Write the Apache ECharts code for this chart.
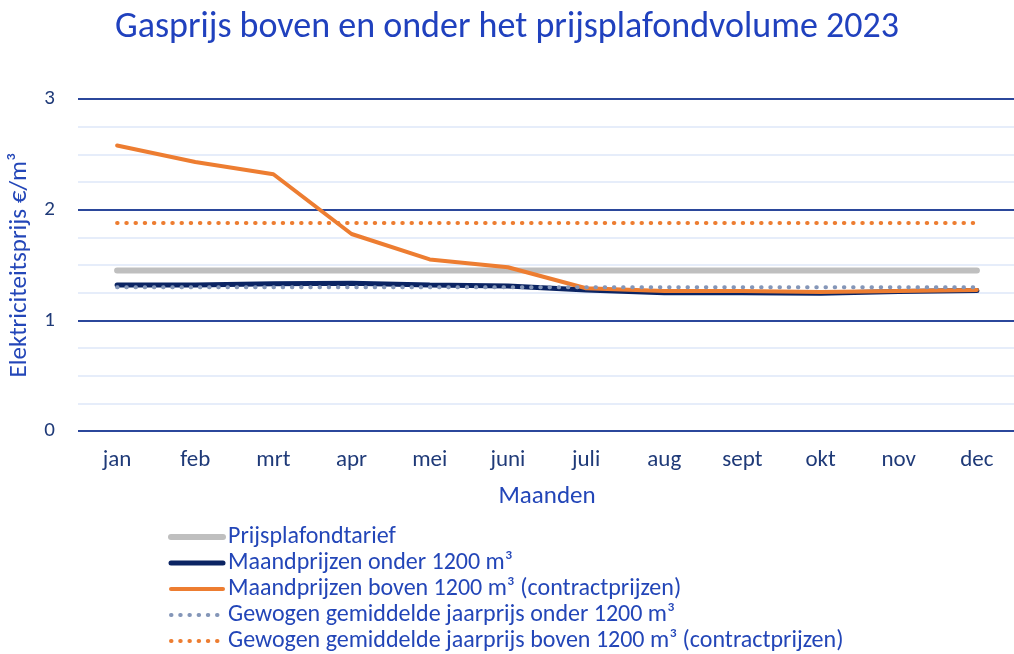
<!doctype html>
<html>
	<head>
		<meta charset="utf-8">
		<title>Gasprijs 2023</title>
		<style>
			html, body { margin: 0; padding: 0; background: #fff; }
			#main { width: 1014px; height: 654px; }
		</style>
	</head>
	<body>
		<div id="main"></div>
		<script src="https://cdn.jsdelivr.net/npm/echarts@6/dist/echarts.min.js"></script>
		<script type="text/javascript">
			// maanden op de x-as
			var maanden = ['jan', 'feb', 'mrt', 'apr', 'mei', 'juni', 'juli', 'aug', 'sept', 'okt', 'nov', 'dec'];

			var plafondTarief = [1.45, 1.45, 1.45, 1.45, 1.45, 1.45, 1.45, 1.45, 1.45, 1.45, 1.45, 1.45];
			var onder1200 = [1.32, 1.32, 1.33, 1.335, 1.32, 1.31, 1.275, 1.25, 1.25, 1.245, 1.26, 1.27];
			var boven1200 = [2.58, 2.43, 2.32, 1.78, 1.55, 1.48, 1.29, 1.265, 1.265, 1.255, 1.265, 1.275];
			var gemOnder = [1.30, 1.30, 1.30, 1.30, 1.30, 1.30, 1.30, 1.30, 1.30, 1.30, 1.30, 1.30];
			var gemBoven = [1.88, 1.88, 1.88, 1.88, 1.88, 1.88, 1.88, 1.88, 1.88, 1.88, 1.88, 1.88];

			var yTicks = [0, 1, 2, 3];

			var font = 'Carlito, Lato, "Open Sans", sans-serif';

			var myChart = echarts.init(document.getElementById('main'));

			function lijn(naam, data, kleur, breedte, type) {
				return {
					name: naam,
					type: 'line',
					data: data,
					symbol: 'none',
					animation: false,
					lineStyle: {
						color: kleur,
						width: breedte,
						type: type || 'solid',
						cap: 'round'
					},
					itemStyle: { color: kleur }
				};
			}

			var option = {
				backgroundColor: '#ffffff',
				textStyle: { fontFamily: font },
				title: {
					text: 'Gasprijs boven en onder het prijsplafondvolume 2023',
					left: 'center',
					top: 5,
					textStyle: {
						fontFamily: font,
						fontSize: 36,
						fontWeight: 'normal',
						color: '#2041BE'
					}
				},
				legend: {
					orient: 'vertical',
					left: 168,
					top: 525,
					padding: 0,
					itemWidth: 52,
					itemHeight: 14,
					itemGap: 2,
					height: 200,
					itemStyle: { opacity: 0 },
					lineStyle: { width: 'inherit' },
					textStyle: {
						fontFamily: font,
						fontSize: 24,
						lineHeight: 22,
						color: '#2346B8'
					},
					data: ['Prijsplafondtarief', 'Maandprijzen onder 1200 m³', 'Maandprijzen boven 1200 m³ (contractprijzen)',
						'Gewogen gemiddelde jaarprijs onder 1200 m³', 'Gewogen gemiddelde jaarprijs boven 1200 m³ (contractprijzen)'
					]
				},
				grid: {
					left: 78,
					right: -2,
					top: 99,
					bottom: 223,
					outerBoundsMode: 'none',
					containLabel: false
				},
				xAxis: {
					type: 'category',
					data: maanden,
					boundaryGap: true,
					name: 'Maanden',
					nameLocation: 'middle',
					nameGap: 53,
					nameTextStyle: { fontSize: 25, color: '#2346B8', fontFamily: font },
					axisLine: { show: false },
					axisTick: { show: false },
					axisLabel: { fontSize: 23, color: '#1F3A78', margin: 18, fontFamily: font }
				},
				yAxis: {
					type: 'value',
					min: yTicks[0],
					max: yTicks[yTicks.length - 1],
					interval: 1,
					name: 'Elektriciteitsprijs €/m³',
					nameLocation: 'middle',
					nameGap: 46,
					nameTextStyle: { fontSize: 25, color: '#2346B8', fontFamily: font },
					axisLine: { show: false },
					axisTick: { show: false },
					axisLabel: { fontSize: 21, color: '#1F3A78', margin: 23, fontFamily: font },
					splitLine: { lineStyle: { color: '#2B479B', width: 2 } },
					minorTick: { show: false, splitNumber: 4 },
					minorSplitLine: { show: true, lineStyle: { color: '#E6EDFA', width: 2 } }
				},
				series: [
					lijn('Prijsplafondtarief', plafondTarief, '#BFBFBF', 6),
					lijn('Maandprijzen onder 1200 m³', onder1200, '#0B2463', 5),
					lijn('Maandprijzen boven 1200 m³ (contractprijzen)', boven1200, '#ED7D31', 4),
					lijn('Gewogen gemiddelde jaarprijs onder 1200 m³', gemOnder, '#8496B8', 4, [0.5, 8.7]),
					lijn('Gewogen gemiddelde jaarprijs boven 1200 m³ (contractprijzen)', gemBoven, '#ED7D31', 4, [0.5, 8.7])
				]
			};

			myChart.setOption(option);
		</script>
	</body>
</html>
